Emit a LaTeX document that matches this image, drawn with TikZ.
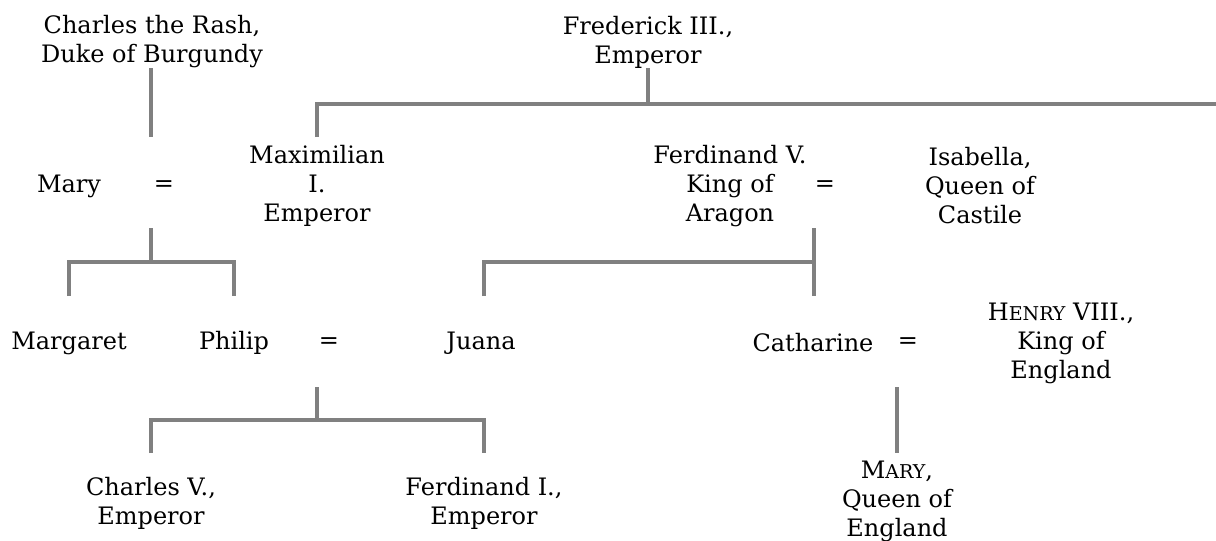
\documentclass[tikz,border=0pt]{standalone}
\usepackage{fontspec}
\usepackage{tikz}
\setmainfont{DejaVu Serif}
\newcommand{\fakesc}[2]{#1{\fontsize{19}{29}\selectfont #2}}

\begin{document}
\begin{tikzpicture}[x=1pt, y=-1pt,
		person/.style={align=center, inner sep=0pt, font=\fontsize{24}{29}\selectfont},
		kin/.style={draw=gray, line width=3.6pt, line join=miter}]
			\useasboundingbox (0,0) rectangle (1216,541);
			% Nodes
			\node[person] (charles) at (152,42) {Charles the Rash,\\Duke of Burgundy};
			\node[person] (frederick) at (648,42) {Frederick III.,\\Emperor};
			\node[person] (mary) at (69,186) {Mary};
			\node[person] (maximilian) at (317,186) {Maximilian\\I.\\Emperor};
			\node[person] (ferdinand) at (730,186) {Ferdinand V.\\King of\\Aragon};
			\node[person] (isabella) at (980,186) {Isabella,\\Queen of\\Castile};
			\node[person] (margaret) at (69,343) {Margaret};
			\node[person] (philip) at (234,343) {Philip};
			\node[person] (juana) at (481,343) {Juana};
			\node[person] (catharine) at (813,343) {Catharine};
			\node[person] (henry) at (1061,343) {\fakesc{H}{ENRY} VIII.,\\King of\\England};
			\node[person] (charlesv) at (151,503) {Charles V.,\\Emperor};
			\node[person] (ferdinandi) at (484,503) {Ferdinand I.,\\Emperor};
			\node[person] (queen) at (897,501) {\fakesc{M}{ARY},\\Queen of\\England};
			\foreach \i/\x/\y in {1/164/186, 2/825/186, 3/329/343, 4/908/343} {
				\node[person] (eq\i) at (\x,\y) {=};
			}
			% Lines
			\coordinate (maryup) at (151,137);
			\coordinate (fredbar) at (648,104);
			\coordinate (maxup) at (317,137);
			\coordinate (barend) at (1216,104);
			\draw[kin] (charles.south -| maryup) -- (maryup);
			\draw[kin] (frederick.south) -- (fredbar);
			\draw[kin] (maxup) |- (barend);
			\coordinate (mmdown) at (151,228);
			\coordinate (mmbar) at (151,262);
			\coordinate (margup) at (69,296);
			\coordinate (philup) at (234,296);
			\draw[kin] (mmdown) -- (mmbar);
			\draw[kin] (margup) |- (mmbar) -| (philup);
			\coordinate (fidown) at (814,228);
			\coordinate (fibar) at (814,262);
			\coordinate (cathup) at (814,296);
			\coordinate (juanaup) at (484,296);
			\draw[kin] (fidown) -- (cathup);
			\draw[kin] (juanaup) |- (fibar);
			\coordinate (pjdown) at (317,387);
			\coordinate (pjbar) at (317,420);
			\coordinate (charlesvup) at (151,453);
			\coordinate (ferdiup) at (484,453);
			\draw[kin] (pjdown) -- (pjbar);
			\draw[kin] (charlesvup) |- (pjbar) -| (ferdiup);
			\coordinate (chdown) at (897,387);
			\coordinate (queenup) at (897,453);
			\draw[kin] (chdown) -- (queenup);
		\end{tikzpicture}
\end{document}
